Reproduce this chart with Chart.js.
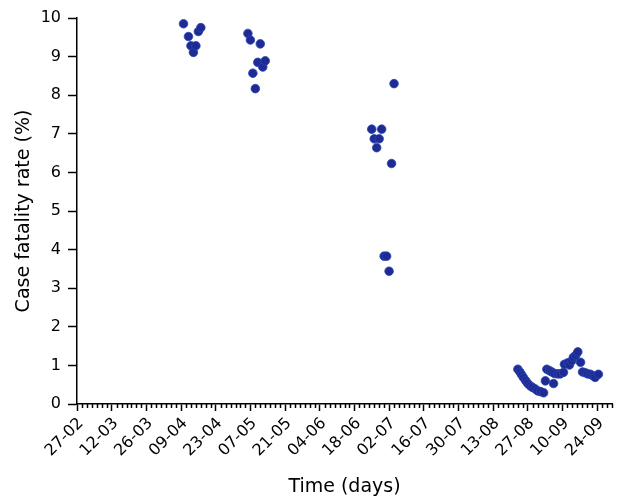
<!DOCTYPE html>
<html>
<head>
<meta charset="utf-8">
<script src="https://cdn.jsdelivr.net/npm/chart.js@4"></script>
<style>
  html, body { margin: 0; padding: 0; background: #fff; }
  #wrap { width: 623px; height: 499px; }
</style>
</head>
<body>
<div id="wrap"><canvas id="c" width="623" height="499"></canvas></div>
<script>
// Day offsets since 27-02 (2020) and case fatality rates (%)
const days = [
  43, 45, 46, 47, 48, 49, 50,
  69, 70, 71, 72, 73, 74, 75, 76,
  119, 120, 121, 122, 123, 124, 125, 126, 127, 128,
  178.0, 178.9, 179.6, 180.3, 181.2, 182.0, 183.0, 183.9, 185.0, 186.0, 187.2, 188.4,
  189.1, 192.4,
  189.7, 190.8, 191.7, 192.8, 194.0, 195.1, 196.4,
  196.8, 198.2, 198.8, 199.8, 200.4, 201.4, 202.2, 203.3,
  204.1, 205.2, 206.2, 207.3, 208.3, 209.2, 210.5
];
const cfr = [
  9.85, 9.52, 9.28, 9.11, 9.28, 9.65, 9.75,
  9.60, 9.43, 8.57, 8.17, 8.85, 9.33, 8.73, 8.89,
  7.12, 6.87, 6.64, 6.87, 7.12, 3.83, 3.83, 3.44, 6.23, 8.30,
  0.90, 0.82, 0.75, 0.68, 0.60, 0.53, 0.47, 0.43, 0.39, 0.34, 0.32, 0.29,
  0.60, 0.53,
  0.90, 0.86, 0.83, 0.79, 0.78, 0.78, 0.82,
  1.03, 1.07, 1.01, 1.12, 1.21, 1.27, 1.35, 1.08,
  0.83, 0.81, 0.78, 0.77, 0.73, 0.69, 0.77
];
const xTickLabels = ['27-02','12-03','26-03','09-04','23-04','07-05','21-05','04-06',
                     '18-06','02-07','16-07','30-07','13-08','27-08','10-09','24-09'];
const xMajorStep = 14;
const xMinorStep = 2;
const xMax = 216;
const yTicks = [0,1,2,3,4,5,6,7,8,9,10];

const points = days.map((d, i) => ({ x: d, y: cfr[i] }));

const minorTicks = {
  id: 'minorTicks',
  afterDraw(chart) {
    const s = chart.scales.x;
    const ctx = chart.ctx;
    ctx.save();
    ctx.strokeStyle = '#000';
    ctx.lineWidth = 1.5;
    ctx.beginPath();
    for (let v = 0; v <= xMax; v += xMinorStep) {
      if (v % xMajorStep === 0) continue;
      const px = Math.round(s.getPixelForValue(v)) + 0.5;
      ctx.moveTo(px, s.top);
      ctx.lineTo(px, s.top + 4);
    }
    ctx.stroke();
    ctx.restore();
  }
};

new Chart(document.getElementById('c'), {
  type: 'scatter',
  data: {
    datasets: [{
      data: points,
      backgroundColor: '#1f2b94',
      borderColor: '#2a45b0',
      borderWidth: 0.8,
      pointRadius: 4.3,
      pointHoverRadius: 4.3
    }]
  },
  plugins: [minorTicks],
  options: {
    responsive: false,
    animation: false,
    events: [],
    layout: { padding: { top: 18, right: 11, left: 0, bottom: 0 } },
    plugins: { legend: { display: false }, tooltip: { enabled: false } },
    scales: {
      x: {
        type: 'linear',
        min: 0,
        max: xMax,
        afterFit(s) { s.height = 95; s.paddingRight = 0; s.paddingLeft = 0; },
        afterBuildTicks(s) {
          const t = [];
          for (let v = 0; v <= xMax; v += xMinorStep) t.push({ value: v });
          s.ticks = t;
        },
        ticks: {
          autoSkip: false,
          maxRotation: 45,
          minRotation: 45,
          color: '#000',
          padding: 3,
          labelOffset: 4,
          font: { family: 'DejaVu Sans', size: 16 },
          callback(v) { return v % xMajorStep === 0 ? xTickLabels[v / xMajorStep] : ''; }
        },
        grid: {
          drawOnChartArea: false,
          tickLength: 7,
          tickWidth: 1.5,
          tickColor(ctx) { return ctx.tick && ctx.tick.value % xMajorStep === 0 ? '#000' : 'rgba(0,0,0,0)'; }
        },
        border: { display: true, color: '#000', width: 1.5 },
        title: {
          display: true,
          text: 'Time (days)',
          color: '#000',
          font: { family: 'DejaVu Sans', size: 19 },
          padding: { top: 0, bottom: 1 }
        }
      },
      y: {
        min: 0,
        max: 10,
        afterFit(s) { s.width = 77; },
        afterBuildTicks(s) { s.ticks = yTicks.map(v => ({ value: v })); },
        ticks: {
          color: '#000',
          padding: 7,
          font: { family: 'DejaVu Sans', size: 16 }
        },
        grid: {
          drawOnChartArea: false,
          tickLength: 9,
          tickWidth: 1.5,
          tickColor: '#000'
        },
        border: { display: true, color: '#000', width: 1.5 },
        title: {
          display: true,
          text: 'Case fatality rate (%)',
          color: '#000',
          font: { family: 'DejaVu Sans', size: 19 },
          padding: { top: 13, bottom: 0 }
        }
      }
    }
  }
});
</script>
</body>
</html>
